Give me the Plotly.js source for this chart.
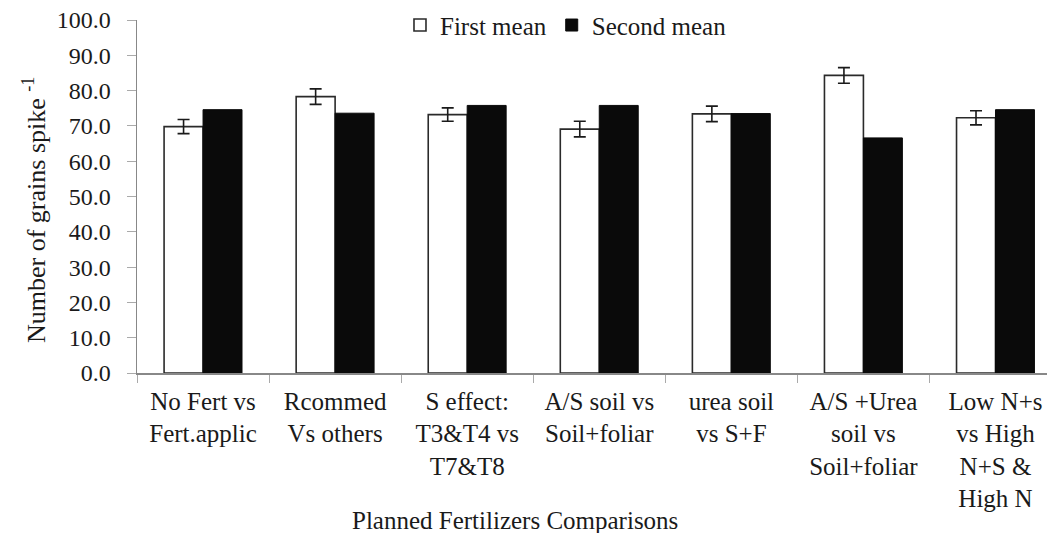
<!DOCTYPE html>
<html>
<head>
<meta charset="utf-8">
<script src="https://cdn.plot.ly/plotly-3.0.1.min.js"></script>
<style>html,body{margin:0;padding:0;background:#fff}#chart{width:1047px;height:533px}</style>
</head>
<body>
<div id="chart"></div>
<script>
const categories = [
  "No Fert vs<br>Fert.applic",
  "Rcommed<br>Vs others",
  "S effect:<br>T3&amp;T4 vs<br>T7&amp;T8",
  "A/S soil vs<br>Soil+foliar",
  "urea soil<br>vs S+F",
  "A/S +Urea<br>soil vs<br>Soil+foliar",
  "Low N+s<br>vs High<br>N+S &amp;<br>High N"
];
const firstMean = [69.8, 78.3, 73.2, 69.1, 73.4, 84.3, 72.3];
const firstErr = [2.0, 2.2, 1.9, 2.2, 2.2, 2.2, 2.0];
const secondMean = [74.6, 73.6, 75.8, 75.8, 73.5, 66.6, 74.6];
const yTickVals = [0,10,20,30,40,50,60,70,80,90,100];
const yTickText = yTickVals.map(v => v.toFixed(1));
const yTitle = "Number of grains spike <sup>-1</sup>";
const xTitle = "Planned Fertilizers Comparisons";

const FAM = 'Liberation Serif, DejaVu Serif, Times, serif';
const font = {family: FAM, color: "#1a1a1a", size: 25};

const traces = [
  {
    type: "bar", name: "First mean", x: categories, y: firstMean,
    marker: {color: "#ffffff", line: {color: "#2a2a2a", width: 1.6}},
    error_y: {type: "data", array: firstErr, visible: true, color: "#1a1a1a", thickness: 1.6, width: 6}
  },
  {
    type: "bar", name: "Second mean", x: categories, y: secondMean,
    marker: {color: "#0a0a0a", line: {color: "#0a0a0a", width: 1}}
  }
];

const layout = {
  width: 1047, height: 533,
  margin: {l: 137, r: 0, t: 20, b: 160, autoexpand: false},
  paper_bgcolor: "#fff", plot_bgcolor: "#fff",
  font: font,
  barmode: "group", bargap: 0.41, bargroupgap: 0,
  showlegend: true,
  legend: {orientation: "h", x: 0.289, xanchor: "left", y: 0.985, yanchor: "middle",
           bgcolor: "rgba(0,0,0,0)", font: {family: FAM, size: 25, color: "#1a1a1a"}},
  xaxis: {
    type: "category", range: [-0.5, 6.39], automargin: false,
    showline: true, linecolor: "#888", linewidth: 1.5,
    ticks: "outside", tickson: "boundaries", ticklen: 8, tickcolor: "#aaa", tickwidth: 1,
    ticklabelstandoff: 5,
    showgrid: false, zeroline: false,
    tickfont: {family: FAM, size: 25, color: "#1a1a1a"}
  },
  yaxis: {
    range: [0, 100], tickvals: yTickVals, ticktext: yTickText, automargin: false,
    showline: true, linecolor: "#888", linewidth: 1.5,
    ticks: "outside", ticklen: 9, tickcolor: "#aaa", tickwidth: 1,
    ticklabelstandoff: 11,
    showgrid: false, zeroline: false,
    tickfont: {family: FAM, size: 24, color: "#1a1a1a"}
  },
  annotations: [
    {
      text: xTitle, xref: "paper", yref: "paper",
      x: 0.4156, y: -0.418, xanchor: "center", yanchor: "middle", showarrow: false,
      font: {family: FAM, size: 25, color: "#1a1a1a"}
    },
    {
      text: yTitle, xref: "paper", yref: "paper", textangle: -90,
      x: -0.112, y: 0.462, xanchor: "center", yanchor: "middle", showarrow: false,
      font: {family: FAM, size: 26, color: "#1a1a1a"}
    }
  ]
};

Plotly.newPlot("chart", traces, layout, {displayModeBar: false, staticPlot: true});
</script>
</body>
</html>
